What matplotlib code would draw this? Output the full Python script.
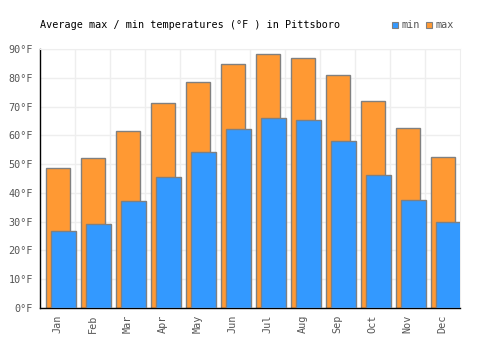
import matplotlib.pyplot as plt
from matplotlib.patches import Rectangle
import numpy as np

months = ['Jan', 'Feb', 'Mar', 'Apr', 'May', 'Jun',
          'Jul', 'Aug', 'Sep', 'Oct', 'Nov', 'Dec']
temp_max = [48.5, 52.0, 61.4, 71.2, 78.5, 84.7, 88.1, 86.7, 81.1, 71.8, 62.7, 52.3]
temp_min = [26.6, 29.1, 37.2, 45.5, 54.2, 62.2, 65.9, 65.2, 58.2, 46.1, 37.7, 29.9]
yticks = [0, 10, 20, 30, 40, 50, 60, 70, 80, 90]

orange = '#ff9933'
blue = '#3399ff'
edge = '#808080'
font = 'DejaVu Sans Mono'
fs = 7.3

fig = plt.figure(figsize=(5, 3.5), dpi=100)
ax = fig.add_axes([0.08, 0.12, 0.84, 0.74])

x = np.arange(len(months))
ax.bar(x + 0.014, temp_max, width=0.69, color=orange, edgecolor=edge, linewidth=1, zorder=2)
ax.bar(x + 0.17, temp_min, width=0.71, color=blue, edgecolor=edge, linewidth=1, zorder=3)

ax.set_xlim(-0.5, 11.5)
ax.set_ylim(0, 90)
ax.set_xticks(x)
ax.set_xticklabels(months, rotation=90, family=font, fontsize=fs, color='#555555')
ax.set_xticks(x[1:] - 0.5, minor=True)
ax.set_yticks(yticks)
ax.set_yticklabels([f'{v}°F' for v in yticks], family=font, fontsize=fs, color='#555555')
ax.tick_params(axis='both', which='both', length=0)
ax.tick_params(axis='x', pad=5)
ax.tick_params(axis='y', pad=5)

ax.grid(axis='y', color='#eeeeee', linewidth=1, zorder=0)
ax.grid(axis='x', which='minor', color='#eeeeee', linewidth=1, zorder=0)
ax.set_axisbelow(True)

for s in ['top', 'right']:
    ax.spines[s].set_color('#eeeeee')
for s in ['left', 'bottom']:
    ax.spines[s].set_color('black')
    ax.spines[s].set_linewidth(1)

fig.text(0.08, 1 - 25 / 350, 'Average max / min temperatures (°F ) in Pittsboro',
         family=font, fontsize=fs, color='black', va='center', ha='left')

# legend
ly = 1 - 25 / 350
sq_w = 6 / 500
sq_h = 6 / 350
for x0, col, lab in [(392, blue, 'min'), (426, orange, 'max')]:
    fig.patches.append(Rectangle((x0 / 500, ly - sq_h / 2), sq_w, sq_h,
                                 transform=fig.transFigure, facecolor=col,
                                 edgecolor=edge, linewidth=0.8))
    fig.text((x0 + 9) / 500, ly, lab, family=font, fontsize=fs,
             color='#555555', va='center', ha='left')

fig.savefig('out.png', dpi=100)
